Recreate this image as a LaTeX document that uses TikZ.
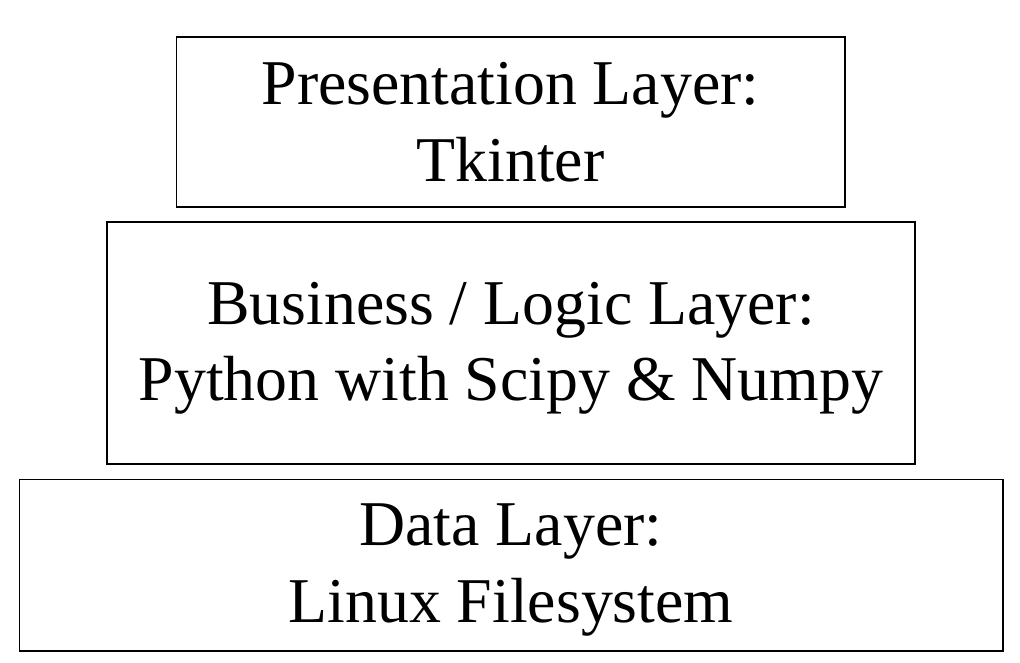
\documentclass[tikz,border=0pt]{standalone}
\usepackage{fontspec}
\setmainfont{Liberation Serif}
\begin{document}
\begin{tikzpicture}[x=1pt,y=-1pt,
  layerbox/.style={draw=black,line width=1.5pt,fill=none},
  layertext/.style={anchor=base,inner sep=0pt,font=\fontsize{63.8}{77}\selectfont}]
\useasboundingbox (0,0) rectangle (1020,662);
\draw[layerbox] (176.5,37) rectangle (845,207) coordinate (b1);
\draw[layerbox] (107,222) rectangle (915,464) coordinate (b2);
\draw[layerbox] (19.5,479.5) rectangle (1003,651) coordinate (b3);
\node[layertext] (t1a) at (510.5,104) {Presentation Layer:};
\node[layertext] (t1b) at (510.5,181) {Tkinter};
\node[layertext] (t2a) at (511,324) {Business / Logic Layer:};
\node[layertext] (t2b) at (511,400) {Python with Scipy \& Numpy};
\node[layertext] (t3a) at (511,545) {Data Layer:};
\node[layertext] (t3b) at (511,622) {Linux Filesystem};
\end{tikzpicture}
\end{document}
